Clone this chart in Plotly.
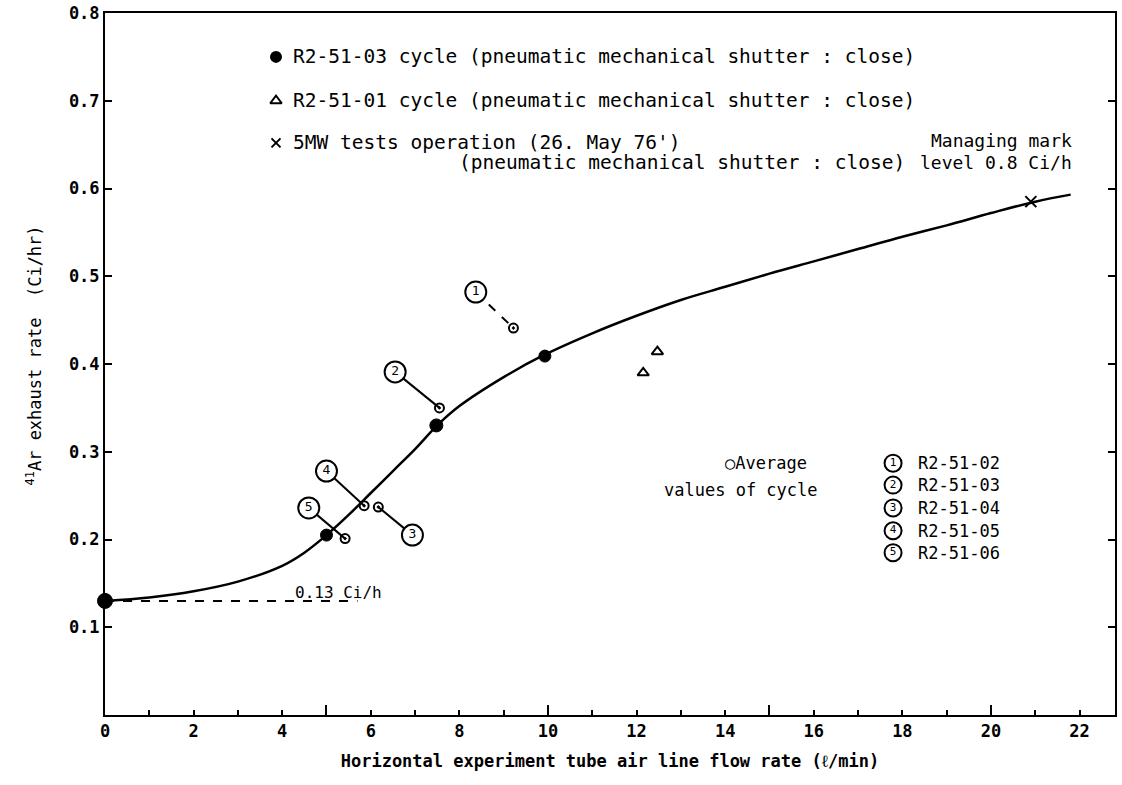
import plotly.graph_objects as go

# ---------------- data ----------------
curve_x = [0, 1, 2, 3, 4, 4.5, 5, 5.5, 6, 6.5, 7, 7.5, 8, 9, 9.9, 11, 12, 13, 14, 15, 16, 17, 18, 19, 20, 21, 21.8]
curve_y = [0.13, 0.134, 0.141, 0.152, 0.17, 0.185, 0.205, 0.228, 0.253, 0.278, 0.303, 0.33, 0.352, 0.385, 0.41,
           0.435, 0.455, 0.473, 0.488, 0.503, 0.517, 0.531, 0.545, 0.558, 0.572, 0.585, 0.593]

r03_x = [0, 5, 7.48, 9.93]          # R2-51-03 cycle (filled circles)
r03_y = [0.13, 0.205, 0.33, 0.409]

r01_x = [12.15, 12.47]              # R2-51-01 cycle (triangles)
r01_y = [0.39, 0.414]

mw_x = [20.9]                       # 5MW tests operation
mw_y = [0.585]

cycle_labels = ["1", "2", "3", "4", "5"]
cycle_names = ["R2-51-02", "R2-51-03", "R2-51-04", "R2-51-05", "R2-51-06"]
label_x = [8.37, 6.55, 6.94, 5.0, 4.6]      # circled-number tags
label_y = [0.482, 0.391, 0.205, 0.278, 0.236]
avg_x = [9.22, 7.55, 6.17, 5.85, 5.42]      # average values of cycle
avg_y = [0.441, 0.35, 0.237, 0.2385, 0.201]

base_x = [0, 5.7]                   # 0.13 Ci/h reference
base_y = [0.13, 0.13]

x_ticks = list(range(0, 23, 2))
y_ticks = [0.1, 0.2, 0.3, 0.4, 0.5, 0.6, 0.7, 0.8]
y_ticktext = ["0.1", "0.2", "0.3", "0.4", "0.5", "0.6", "0.7", "0.8"]

FONT = "DejaVu Sans Mono"
BLACK = "#000000"

fig = go.Figure()

# baseline dashed
fig.add_trace(go.Scatter(x=base_x, y=base_y, mode="lines",
                         line=dict(color=BLACK, width=2, dash="dash"), hoverinfo="skip"))
# main curve
fig.add_trace(go.Scatter(x=curve_x, y=curve_y, mode="lines", line_shape="spline",
                         line=dict(color=BLACK, width=2.5), hoverinfo="skip"))
# connectors from tags to averages
for i in range(len(label_x)):
    fig.add_trace(go.Scatter(x=[label_x[i], avg_x[i]], y=[label_y[i], avg_y[i]], mode="lines",
                             line=dict(color=BLACK, width=2, dash="dash" if i == 0 else "solid"),
                             hoverinfo="skip"))
# average points
fig.add_trace(go.Scatter(x=avg_x, y=avg_y, mode="markers",
                         marker=dict(symbol="circle-open-dot", size=9, color=BLACK, opacity=1,
                                     line=dict(width=2, color=BLACK))))
# circled tags
fig.add_trace(go.Scatter(x=label_x, y=label_y, mode="markers+text", text=cycle_labels,
                         textposition="middle center",
                         textfont=dict(family=FONT, size=13, color=BLACK),
                         marker=dict(symbol="circle", size=21, color="white", opacity=1,
                                     line=dict(color=BLACK, width=2))))
# R2-51-03 filled
fig.add_trace(go.Scatter(x=r03_x, y=r03_y, mode="markers",
                         marker=dict(symbol="circle", size=[15, 12, 13, 12], color=BLACK, opacity=1,
                                     line=dict(color=BLACK, width=1)),
                         cliponaxis=False))
# R2-51-01 triangles
fig.add_trace(go.Scatter(x=r01_x, y=r01_y, mode="markers",
                         marker=dict(symbol="triangle-up-open", size=10, color=BLACK, opacity=1,
                                     line=dict(width=2, color=BLACK))))
# 5MW
fig.add_trace(go.Scatter(x=mw_x, y=mw_y, mode="markers",
                         marker=dict(symbol="x-thin", size=11, color=BLACK, opacity=1,
                                     line=dict(width=2, color=BLACK))))

# ---------------- legend keys (top) ----------------
leg_x = 3.86
leg_rows = [0.75, 0.70, 0.652]
fig.add_trace(go.Scatter(x=[leg_x], y=[leg_rows[0]], mode="markers",
                         marker=dict(symbol="circle", size=12, color=BLACK, opacity=1)))
fig.add_trace(go.Scatter(x=[leg_x], y=[leg_rows[1]], mode="markers",
                         marker=dict(symbol="triangle-up-open", size=10, color=BLACK, opacity=1,
                                     line=dict(width=2, color=BLACK))))
fig.add_trace(go.Scatter(x=[leg_x], y=[leg_rows[2]], mode="markers",
                         marker=dict(symbol="x-thin", size=9, color=BLACK, opacity=1,
                                     line=dict(width=2, color=BLACK))))
leg_texts = ["R2-51-03 cycle (pneumatic mechanical shutter : close)",
             "R2-51-01 cycle (pneumatic mechanical shutter : close)",
             "5MW tests operation (26. May 76')"]
for t, yy in zip(leg_texts, leg_rows):
    fig.add_annotation(x=4.2, y=yy, text=t, showarrow=False, xanchor="left", yanchor="middle",
                       font=dict(family=FONT, size=19.5, color=BLACK))
fig.add_annotation(x=18.1, y=0.630, text="(pneumatic mechanical shutter : close)", showarrow=False,
                   xanchor="right", yanchor="middle", font=dict(family=FONT, size=19.5, color=BLACK))
fig.add_annotation(x=18.6, y=0.655, text="Managing mark", showarrow=False,
                   xanchor="left", yanchor="middle", font=dict(family=FONT, size=18, color=BLACK))
fig.add_annotation(x=18.35, y=0.630, text="level 0.8 Ci/h", showarrow=False,
                   xanchor="left", yanchor="middle", font=dict(family=FONT, size=18, color=BLACK))
fig.add_annotation(x=4.25, y=0.14, text="0.13 Ci/h", showarrow=False,
                   xanchor="left", yanchor="middle", font=dict(family=FONT, size=16, color=BLACK))

# ---------------- legend keys (right) ----------------
rl_x = 17.79
rl_rows = [0.287, 0.262, 0.236, 0.210, 0.185]
fig.add_trace(go.Scatter(x=[rl_x] * 5, y=rl_rows, mode="markers+text", text=cycle_labels,
                         textposition="middle center",
                         textfont=dict(family=FONT, size=11, color=BLACK),
                         marker=dict(symbol="circle", size=17, color="white", opacity=1,
                                     line=dict(color=BLACK, width=2))))
for name, yy in zip(cycle_names, rl_rows):
    fig.add_annotation(x=18.3, y=yy, text=name, showarrow=False, xanchor="left", yanchor="middle",
                       font=dict(family=FONT, size=17, color=BLACK))
fig.add_annotation(x=15.9, y=0.287, text="○Average", showarrow=False, xanchor="right", yanchor="middle",
                   font=dict(family=FONT, size=17, color=BLACK))
fig.add_annotation(x=16.15, y=0.256, text="values of cycle", showarrow=False, xanchor="right",
                   yanchor="middle", font=dict(family=FONT, size=17, color=BLACK))

# y title
fig.add_annotation(xref="paper", yref="y", x=-0.083, y=0.41, text="<sup>41</sup>Ar exhaust rate  (Ci/hr)",
                   textangle=-90, showarrow=False, font=dict(family=FONT, size=17, color=BLACK))

fig.update_layout(
    width=1122, height=785,
    margin=dict(l=105, r=7, t=13, b=70, autoexpand=False),
    paper_bgcolor="white", plot_bgcolor="white",
    showlegend=False,
    font=dict(family=FONT, color=BLACK),
    xaxis=dict(range=[0, 22.8], tickvals=x_ticks, ticks="inside", ticklen=5, tickwidth=2,
               tickcolor=BLACK, showline=True, linecolor=BLACK, linewidth=2, mirror=True,
               showgrid=False, zeroline=False, automargin=False,
               minor=dict(dtick=1, ticks="inside", ticklen=5, tickwidth=2, tickcolor=BLACK, showgrid=False),
               tickfont=dict(family=FONT, size=17, color=BLACK, weight="bold"),
               title=dict(text="Horizontal experiment tube air line flow rate (ℓ/min)",
                          font=dict(family=FONT, size=17, color=BLACK, weight="bold"))),
    xaxis2=dict(range=[0, 22.8], overlaying="x", side="bottom", anchor="y",
                tickvals=[5, 10, 15, 20], ticks="inside", ticklen=10, tickwidth=2, tickcolor=BLACK,
                showticklabels=False, showgrid=False, zeroline=False, showline=False, automargin=False),
    yaxis=dict(range=[0, 0.8], tickvals=y_ticks, ticktext=y_ticktext,
               ticks="inside", ticklen=7, tickwidth=2, tickcolor=BLACK,
               showline=True, linecolor=BLACK, linewidth=2, mirror="ticks",
               showgrid=False, zeroline=False, automargin=False, ticklabeloverflow="allow",
               tickfont=dict(family=FONT, size=17, color=BLACK, weight="bold")),
)
# invisible trace to activate xaxis2
fig.add_trace(go.Scatter(x=[0], y=[0], xaxis="x2", mode="markers", marker=dict(opacity=0), hoverinfo="skip"))

# remove the default 8 px page margin so the figure fills the window exactly
fig.write_html("out.html", config={"displayModeBar": False},
               post_script="document.body.style.margin='0px';")
